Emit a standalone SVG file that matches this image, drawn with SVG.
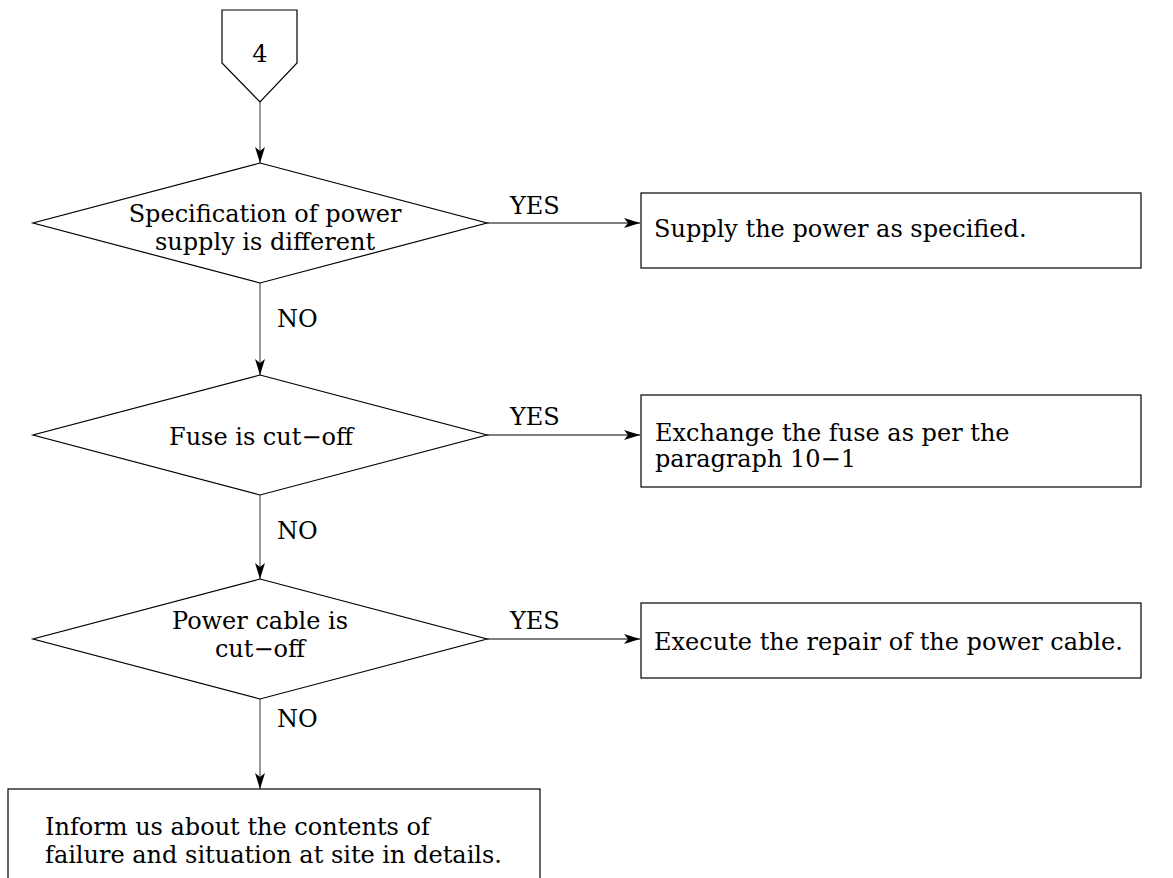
<svg xmlns="http://www.w3.org/2000/svg" width="1173" height="878" viewBox="0 0 1173 878">
<style>
.shape{fill:#fff;stroke:#000;stroke-width:1.2}
.t{font-family:"DejaVu Serif","Liberation Serif",serif;font-size:24px;fill:#000}
.c{text-anchor:middle}
.line{stroke:#000;stroke-width:1.2;fill:none}
.v{stroke:#555}
</style>
<defs>
<marker id="ah" viewBox="0 0 16 10" refX="16" refY="5" markerWidth="16" markerHeight="10" markerUnits="userSpaceOnUse" orient="auto">
<path d="M0,0 L16,5 L0,10 L4,5 Z" fill="#000"/>
</marker>
</defs>
<g id="connectors">
<line class="line v" x1="260" y1="102" x2="260" y2="163" marker-end="url(#ah)"/>
<line class="line" x1="487" y1="223" x2="640" y2="223" marker-end="url(#ah)"/>
<line class="line v" x1="260" y1="283" x2="260" y2="375" marker-end="url(#ah)"/>
<line class="line" x1="487" y1="435" x2="640" y2="435" marker-end="url(#ah)"/>
<line class="line v" x1="260" y1="495" x2="260" y2="579" marker-end="url(#ah)"/>
<line class="line" x1="487" y1="639" x2="640" y2="639" marker-end="url(#ah)"/>
<line class="line v" x1="260" y1="699" x2="260" y2="789" marker-end="url(#ah)"/>
<text class="t" x="510" y="214">YES</text>
<text class="t" x="510" y="425">YES</text>
<text class="t" x="510" y="629">YES</text>
<text class="t" x="277" y="327">NO</text>
<text class="t" x="277" y="539">NO</text>
<text class="t" x="277" y="727">NO</text>
</g>
<g id="start">
<polygon class="shape" points="222,10 297,10 297,63 260,102 222,63"/>
<text class="t c" x="260" y="62">4</text>
</g>
<g id="d1">
<polygon class="shape" points="260,163 487,223 260,283 33,223"/>
<text class="t c" x="265" y="222">Specification of power</text>
<text class="t c" x="265" y="250">supply is different</text>
</g>
<g id="b1">
<rect class="shape" x="641" y="193" width="500" height="75"/>
<text class="t" x="654" y="237">Supply the power as specified.</text>
</g>
<g id="d2">
<polygon class="shape" points="260,375 487,435 260,495 33,435"/>
<text class="t c" x="261" y="445">Fuse is cut−off</text>
</g>
<g id="b2">
<rect class="shape" x="641" y="395" width="500" height="92"/>
<text class="t" x="655" y="441">Exchange the fuse as per the</text>
<text class="t" x="655" y="467">paragraph 10−1</text>
</g>
<g id="d3">
<polygon class="shape" points="260,579 487,639 260,699 33,639"/>
<text class="t c" x="260" y="629">Power cable is</text>
<text class="t c" x="260" y="657">cut−off</text>
</g>
<g id="b3">
<rect class="shape" x="641" y="603" width="500" height="75"/>
<text class="t" x="654" y="650">Execute the repair of the power cable.</text>
</g>
<g id="b4">
<rect class="shape" x="8" y="789" width="532" height="100"/>
<text class="t" x="45" y="835">Inform us about the contents of</text>
<text class="t" x="45" y="863">failure and situation at site in details.</text>
</g>
</svg>
